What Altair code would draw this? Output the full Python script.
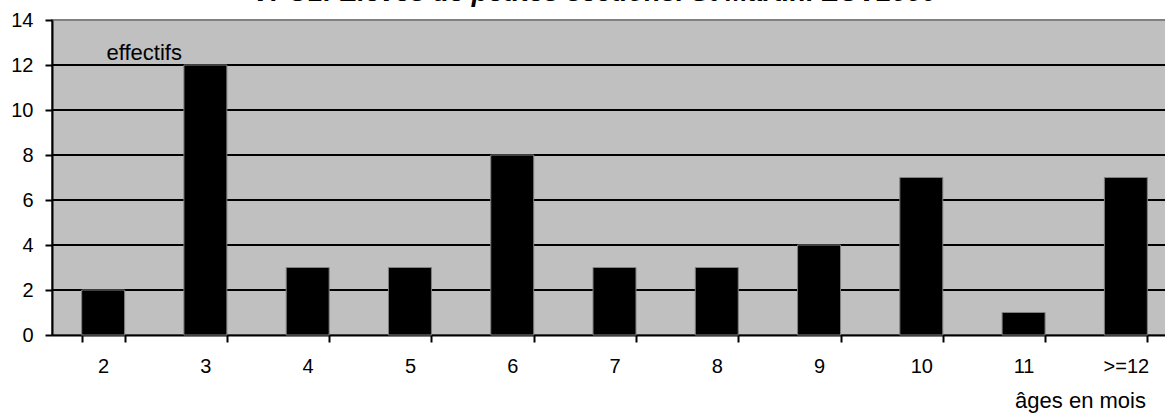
import altair as alt
import pandas as pd

# Age groups (in months) and number of pupils in each
ages = ["2", "3", "4", "5", "6", "7", "8", "9", "10", "11", ">=12"]
effectifs = [2, 12, 3, 3, 8, 3, 3, 4, 7, 1, 7]
grid_values = [2, 4, 6, 8, 10, 12]

df = pd.DataFrame({"age": ages, "effectif": effectifs})
grid = pd.DataFrame({"v": grid_values})

FONT = "Liberation Sans"

y_scale = alt.Scale(domain=[0, 14], nice=False)

gridlines = alt.Chart(grid).mark_rule(color="black", strokeWidth=2).encode(
    y=alt.Y("v:Q", scale=y_scale)
)

bars = alt.Chart(df).mark_bar(color="black", stroke="#808080", strokeWidth=1).encode(
    x=alt.X(
        "age:N",
        sort=ages,
        scale=alt.Scale(paddingInner=0.58, paddingOuter=0.29),
        axis=alt.Axis(
            title="âges en mois",
            titleFont=FONT,
            titleFontSize=22,
            titleFontWeight="normal",
            titleColor="black",
            titleX=1028,
            titleY=72,
            titleAlign="center",
            titleBaseline="alphabetic",
            labelAngle=0,
            labelFont=FONT,
            labelFontSize=20,
            labelColor="black",
            labelPadding=14,
            labelBaseline="top",
            tickBand="extent",
            tickSize=7,
            tickWidth=2,
            tickColor="black",
            domainColor="black",
            domainWidth=2,
            grid=False,
        ),
    ),
    y=alt.Y(
        "effectif:Q",
        scale=y_scale,
        axis=alt.Axis(
            title="effectifs",
            titleFont=FONT,
            titleFontSize=22,
            titleFontWeight="normal",
            titleColor="black",
            titleAngle=0,
            titleX=54,
            titleY=39,
            titleAlign="left",
            titleBaseline="alphabetic",
            values=[0, 2, 4, 6, 8, 10, 12, 14],
            labelFont=FONT,
            labelFontSize=20,
            labelColor="black",
            labelPadding=12,
            tickSize=7,
            tickWidth=2,
            tickColor="black",
            domainColor="black",
            domainWidth=2,
            grid=False,
        ),
    ),
)

chart = (
    alt.layer(gridlines, bars)
    .properties(
        width=1125,
        height=315,
        autosize=alt.AutoSizeParams(type="none"),
        padding={"left": 52, "top": 20, "right": -12, "bottom": 83},
        title=alt.TitleParams(
            "VPU1: Elèves de petites sections. St Martin.  EUV2009",
            font=FONT,
            fontSize=27,
            fontStyle="italic",
            fontWeight="bold",
            color="black",
            anchor="start",
            dx=242,
            dy=18,
            offset=0,
            baseline="alphabetic",
        ),
    )
    .configure_view(fill="#C0C0C0", stroke="#808080", strokeWidth=2)
)

chart.save("out.html", embed_options={"renderer": "svg", "actions": False})
